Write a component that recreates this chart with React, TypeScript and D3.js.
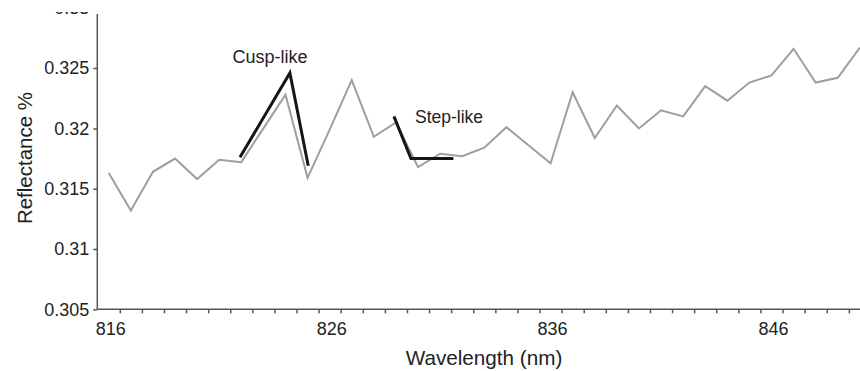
import React, { useEffect, useRef } from 'react';
import * as d3 from 'd3';

// wavelength categories (nm) and measured reflectance
const wavelengths = [
  816, 817, 818, 819, 820, 821, 822, 823, 824, 825, 826, 827, 828, 829, 830, 831, 832, 833,
  834, 835, 836, 837, 838, 839, 840, 841, 842, 843, 844, 845, 846, 847, 848, 849, 850,
];
const reflectance = [
  0.3163, 0.3132, 0.3164, 0.3175, 0.3158, 0.3174, 0.3172, 0.32, 0.3228, 0.3159, 0.3199, 0.324,
  0.3193, 0.3205, 0.3168, 0.3179, 0.3177, 0.3184, 0.3201, 0.3186, 0.3171, 0.323, 0.3192, 0.3219,
  0.32, 0.3215, 0.321, 0.3235, 0.3223, 0.3238, 0.3244, 0.3266, 0.3238, 0.3242, 0.3267,
];

// highlighted shapes
const cuspX = [821.94, 824.2, 825.03];
const cuspY = [0.3176, 0.3246, 0.3169];
const stepX = [828.91, 829.68, 831.6];
const stepY = [0.321, 0.3175, 0.3175];

const xTickLabels = [816, 826, 836, 846];
const yTicks = [0.305, 0.31, 0.315, 0.32, 0.325, 0.33];

const W = 860;
const H = 371;
const FONT = '"Liberation Sans", Arial, Helvetica, sans-serif';

const App = () => {
  const svgRef = useRef<SVGSVGElement>(null);

  useEffect(() => {
    const svg = d3.select(svgRef.current);
    svg.selectAll('*').remove();

    const x = d3.scaleLinear().domain([815.5, 850.5]).range([97.7, 870.9]);
    const y = d3.scaleLinear().domain([0.305, 0.33]).range([309.3, 7.8]);

    // clip top (the figure is cut above the axis); clip is in the axis group's local space
    svg.append('defs').append('clipPath').attr('id', 'topClip')
      .append('rect').attr('x', -200).attr('y', 12).attr('width', W + 200).attr('height', H);

    // y axis
    const yAxis = svg.append('g')
      .attr('clip-path', 'url(#topClip)')
      .attr('transform', 'translate(97.3,0)')
      .call(d3.axisLeft(y).tickValues(yTicks).tickSize(4).tickSizeOuter(0).tickPadding(4)
        .tickFormat((d) => String(+(+d).toFixed(3))));
    yAxis.select('.domain').attr('d', `M0,14V${y(0.305)}`);
    yAxis.selectAll('line, path').attr('stroke', '#555').attr('stroke-width', 1.5);
    yAxis.selectAll('text').attr('font-family', FONT).attr('font-size', 18).attr('fill', '#222');

    // x axis: ticks between categories, labels on categories
    const boundaries = wavelengths.slice(0, -1).map((w) => w + 0.5);
    const xAxis = svg.append('g')
      .attr('transform', `translate(0,${y(0.305)})`)
      .call(d3.axisBottom(x).tickValues(boundaries).tickSize(4).tickSizeOuter(0).tickFormat(() => ''));
    xAxis.select('.domain').attr('d', `M97.3,0H${W}`);
    xAxis.selectAll('line, path').attr('stroke', '#555').attr('stroke-width', 1.5);

    svg.append('g').selectAll('text')
      .data(xTickLabels)
      .enter()
      .append('text')
      .attr('x', (d) => x(d) + 2)
      .attr('y', 335)
      .attr('text-anchor', 'middle')
      .attr('font-family', FONT)
      .attr('font-size', 18)
      .attr('fill', '#222')
      .text((d) => d);

    // axis titles
    svg.append('text')
      .attr('x', 484)
      .attr('y', 365)
      .attr('text-anchor', 'middle')
      .attr('font-family', FONT)
      .attr('font-size', 20.7)
      .attr('fill', '#222')
      .text('Wavelength (nm)');

    svg.append('text')
      .attr('transform', 'translate(32,158) rotate(-90)')
      .attr('text-anchor', 'middle')
      .attr('font-family', FONT)
      .attr('font-size', 20.5)
      .attr('fill', '#222')
      .text('Reflectance %');

    // spectrum
    const line = d3.line<[number, number]>()
      .x((d) => x(d[0]))
      .y((d) => y(d[1]));

    svg.append('path')
      .datum(wavelengths.map((w, i) => [w, reflectance[i]] as [number, number]))
      .attr('fill', 'none')
      .attr('stroke', '#9e9e9e')
      .attr('stroke-width', 2)
      .attr('stroke-linejoin', 'miter')
      .attr('d', line);

    // highlighted features
    [[cuspX, cuspY], [stepX, stepY]].forEach(([xs, ys]) => {
      svg.append('path')
        .datum(xs.map((v, i) => [v, ys[i]] as [number, number]))
        .attr('fill', 'none')
        .attr('stroke', '#151515')
        .attr('stroke-width', 3)
        .attr('d', line);
    });

    svg.append('text')
      .attr('x', 270)
      .attr('y', 63)
      .attr('text-anchor', 'middle')
      .attr('font-family', FONT)
      .attr('font-size', 18)
      .attr('fill', '#222')
      .text('Cusp-like');

    svg.append('text')
      .attr('x', 449)
      .attr('y', 123)
      .attr('text-anchor', 'middle')
      .attr('font-family', FONT)
      .attr('font-size', 17.5)
      .attr('fill', '#222')
      .text('Step-like');
  }, []);

  return (
    <svg
      ref={svgRef}
      width={W}
      height={H}
      style={{ position: 'absolute', left: 0, top: 0, background: '#fff' }}
    ></svg>
  );
};

export default App;
